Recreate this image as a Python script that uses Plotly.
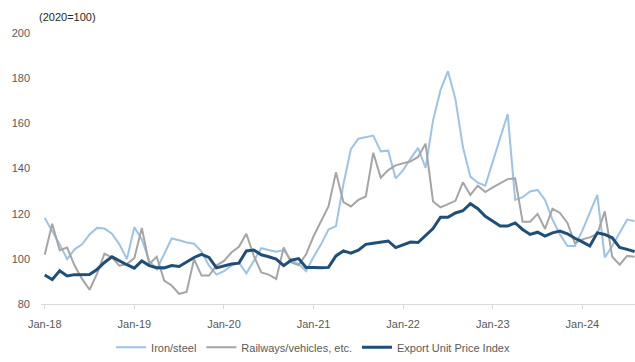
import plotly.graph_objects as go

# Monthly categories Jan-18 .. Aug-24
years = [2018, 2019, 2020, 2021, 2022, 2023, 2024]
month_names = ["Jan", "Feb", "Mar", "Apr", "May", "Jun", "Jul", "Aug", "Sep", "Oct", "Nov", "Dec"]
months = [f"{m}-{str(y)[2:]}" for y in years for m in month_names][:80]
x_idx = list(range(len(months)))

iron_steel = [
    118.1, 112.3, 106.4, 99.9, 104.2, 106.4, 110.8, 113.7, 113.4, 111.1, 106.4, 99.9,
    114.0, 108.6, 99.1, 95.3, 102.0, 109.0, 108.2, 107.2, 106.7, 103.2, 97.0, 93.0,
    94.5, 97.0, 98.4, 93.6, 99.1, 104.7, 103.9, 103.2, 103.9, 99.4, 97.7, 94.6,
    100.8, 106.4, 113.0, 114.5, 133.0, 148.6, 153.2, 153.9, 154.6, 147.6, 147.9, 135.6,
    139.3, 144.4, 149.1, 140.3, 161.2, 174.7, 183.1, 170.7, 149.5, 136.4, 133.7, 132.4,
    143.0, 153.5, 164.1, 126.1, 127.3, 129.8, 130.5, 126.1, 117.4, 110.8, 105.7, 105.7,
    112.5, 120.5, 128.3, 100.6, 105.7, 111.5, 117.4, 116.7,
]

railways = [
    101.8, 115.5, 103.8, 105.0, 97.0, 91.1, 86.3, 93.3, 102.3, 100.6, 97.0, 97.7,
    100.3, 113.7, 97.7, 100.9, 90.4, 88.2, 84.5, 85.3, 99.9, 92.6, 92.6, 97.0,
    99.1, 102.8, 105.3, 111.1, 101.3, 94.0, 93.0, 91.1, 105.0, 98.4, 97.2, 102.0,
    110.0, 116.4, 123.2, 138.3, 125.1, 123.2, 126.1, 127.6, 147.0, 135.9, 139.3, 141.4,
    142.2, 143.2, 145.1, 151.0, 125.4, 122.8, 124.2, 125.7, 133.9, 128.3, 132.4, 129.6,
    131.6, 133.4, 135.3, 135.6, 116.4, 116.4, 119.9, 113.3, 122.2, 120.3, 115.9, 107.0,
    108.6, 109.5, 111.0, 121.0, 100.9, 97.4, 101.3, 100.9,
]

export_upi = [
    92.8, 90.8, 94.7, 92.4, 93.0, 93.0, 93.1, 95.3, 98.4, 100.9, 99.1, 97.4,
    95.9, 99.1, 97.0, 96.1, 96.0, 97.0, 96.6, 98.7, 100.6, 102.0, 100.6, 96.0,
    97.0, 97.7, 98.1, 103.5, 103.9, 101.8, 100.9, 99.9, 97.0, 99.4, 100.1, 96.2,
    96.2, 96.0, 96.2, 101.3, 103.5, 102.5, 103.8, 106.4, 106.9, 107.4, 107.9, 105.0,
    106.1, 107.4, 107.2, 110.1, 113.4, 118.4, 118.4, 120.3, 121.3, 124.4, 122.2, 118.8,
    116.6, 114.5, 114.5, 115.9, 113.0, 110.8, 111.8, 110.1, 111.5, 112.3, 111.1, 109.1,
    107.5, 105.7, 111.5, 110.8, 109.3, 105.0, 104.2, 103.2,
]

tick_vals = [0, 12, 24, 36, 48, 60, 72]
tick_text = ["Jan-18", "Jan-19", "Jan-20", "Jan-21", "Jan-22", "Jan-23", "Jan-24"]

FONT = "Liberation Sans, Arial, sans-serif"

fig = go.Figure()
fig.add_trace(go.Scatter(x=x_idx, y=iron_steel, mode="lines", name="Iron/steel",
                         line=dict(color="#9dc3e6", width=2)))
fig.add_trace(go.Scatter(x=x_idx, y=railways, mode="lines", name="Railways/vehicles, etc.",
                         line=dict(color="#a5a5a5", width=2)))
fig.add_trace(go.Scatter(x=x_idx, y=export_upi, mode="lines", name="Export Unit Price Index",
                         line=dict(color="#1f4e79", width=3)))

fig.update_layout(
    width=635, height=362,
    margin=dict(l=41, r=0, t=33, b=55),
    paper_bgcolor="white", plot_bgcolor="white",
    font=dict(family=FONT, size=11, color="#595959"),
    showlegend=True,
    legend=dict(orientation="h", x=0.118, xanchor="left", y=-0.16, yanchor="middle",
                font=dict(size=11, color="#595959"), bgcolor="rgba(0,0,0,0)",
                itemwidth=30),
    xaxis=dict(range=[-0.5, 79.05], tickvals=tick_vals, ticktext=tick_text,
               showgrid=False, zeroline=False, showline=True, linecolor="#d9d9d9", linewidth=1,
               ticks="outside", ticklen=4, tickcolor="#d9d9d9",
               tickfont=dict(size=11, color="#595959"), ticklabelstandoff=6),
    yaxis=dict(range=[80, 200], tickvals=[80, 100, 120, 140, 160, 180, 200],
               showgrid=False, zeroline=False, showline=False,
               tickfont=dict(size=11, color="#595959"), ticklabelstandoff=10),
    annotations=[dict(text="(2020=100)", xref="paper", yref="paper", x=-0.006, y=1.058,
                      xanchor="left", yanchor="middle", showarrow=False,
                      font=dict(size=11, color="#262626"))],
)

fig.write_html("out.html")
